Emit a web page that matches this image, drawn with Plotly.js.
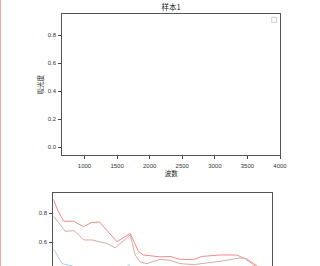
<!DOCTYPE html>
<html>
<head>
<meta charset="utf-8">
<script src="https://cdn.plot.ly/plotly-3.0.1.min.js"></script>
<style>
html,body{margin:0;padding:0;background:#fff;overflow:hidden;width:320px;height:266px;}
#edge{position:absolute;left:0;top:0;width:1px;height:266px;background:#f4a2a2;z-index:5;}
#chart{position:absolute;left:0;top:0;width:320px;height:360px;}
</style>
</head>
<body>
<div id="edge"></div>
<div id="chart"></div>
<script>
// Top chart (empty)
const topTitle = "样本1";
const topXTitle = "波数";
const topYTitle = "吸光度";
const xTickVals = [1000, 1500, 2000, 2500, 3000, 3500, 4000];
const yTickVals = [0.0, 0.2, 0.4, 0.6, 0.8];
const yTickText = ["0.0", "0.2", "0.4", "0.6", "0.8"];
// Bottom chart visible y ticks
const y2TickVals = [0.6, 0.8];
const y2TickText = ["0.6", "0.8"];

// Bottom chart spectra
const redX = [665, 720, 817, 970, 1122, 1250, 1366, 1631, 1834, 1961, 2037, 2292, 2444, 2597, 2800, 2928, 3207, 3461, 3588, 3766, 3880, 4000];
const redY = [0.896, 0.83, 0.745, 0.745, 0.708, 0.737, 0.74, 0.603, 0.66, 0.535, 0.51, 0.497, 0.50, 0.48, 0.478, 0.50, 0.51, 0.51, 0.485, 0.43, 0.39, 0.36];
const brownX = [665, 843, 970, 1000, 1122, 1250, 1479, 1606, 1834, 1910, 1987, 2089, 2292, 2444, 2597, 2800, 3207, 3512, 3614, 3791, 3900, 4000];
const brownY = [0.78, 0.675, 0.68, 0.672, 0.615, 0.615, 0.59, 0.56, 0.65, 0.51, 0.462, 0.45, 0.48, 0.473, 0.45, 0.443, 0.466, 0.49, 0.485, 0.43, 0.39, 0.36];
const blueX = [665, 793, 945, 1100, 1300, 1500, 1700, 1814, 1900, 2100, 2500, 3000, 3500, 3700, 4000];
const blueY = [0.553, 0.45, 0.434, 0.40, 0.36, 0.34, 0.38, 0.443, 0.33, 0.30, 0.29, 0.28, 0.29, 0.28, 0.22];

const H = 360, W = 320;
const tickFont = {family: "Liberation Sans, Arial, sans-serif", size: 6, color: "#333"};
const cjkFont = {family: "Noto Sans CJK SC, sans-serif", size: 6.5, color: "#222"};

const axBase = {
  showline: true, mirror: true, linecolor: "#555", linewidth: 1,
  ticks: "outside", ticklen: 3, tickwidth: 1, tickcolor: "#444",
  showgrid: false, zeroline: false, tickfont: tickFont
};

const traces = [
  {x: redX, y: redY, xaxis: "x2", yaxis: "y2", mode: "lines", line: {color: "#f08a8a", width: 1}, showlegend: false},
  {x: brownX, y: brownY, xaxis: "x2", yaxis: "y2", mode: "lines", line: {color: "#d9aaa2", width: 1}, showlegend: false},
  {x: blueX, y: blueY, xaxis: "x2", yaxis: "y2", mode: "lines", line: {color: "#a8d0ee", width: 1}, showlegend: false},
  {x: [], y: [], xaxis: "x", yaxis: "y", mode: "lines", showlegend: false}
];

const layout = {
  width: W, height: H,
  margin: {l: 0, r: 0, t: 0, b: 0},
  paper_bgcolor: "#fff", plot_bgcolor: "#fff",
  showlegend: false,
  title: {text: topTitle, font: {family: cjkFont.family, size: 7.5, color: "#222"}, x: 171/W, xanchor: "center", xref: "paper", y: 1 - 7/H, yanchor: "middle", yref: "paper"},
  xaxis: Object.assign({}, axBase, {
    domain: [62.3/W, 280/W], range: [660, 4000], anchor: "y",
    tickvals: xTickVals, ticklabelstandoff: 1, title: {text: topXTitle, font: cjkFont, standoff: 3}
  }),
  yaxis: Object.assign({}, axBase, {
    domain: [1 - 155.3/H, 1 - 14/H], range: [-0.059, 0.95], anchor: "x",
    tickvals: yTickVals, ticktext: yTickText, ticklabelstandoff: 1, title: {text: topYTitle, font: cjkFont, standoff: 3}
  }),
  xaxis2: Object.assign({}, axBase, {
    domain: [53.3/W, 272/W], range: [660, 4000], anchor: "y2",
    tickvals: xTickVals, showticklabels: false
  }),
  yaxis2: Object.assign({}, axBase, {
    domain: [1 - 334/H, 1 - 192.7/H], range: [-0.04, 0.944], anchor: "x2",
    tickvals: y2TickVals, ticktext: y2TickText, ticklabelstandoff: 1
  }),
  shapes: [
    {type: "rect", xref: "paper", yref: "paper", x0: 271.7/W, x1: 276.7/W, y0: 1 - 22.3/H, y1: 1 - 17.3/H,
     line: {color: "#cfcfcf", width: 1}, fillcolor: "rgba(255,255,255,0.8)"}
  ]
};

Plotly.newPlot("chart", traces, layout, {staticPlot: true, displayModeBar: false});
</script>
</body>
</html>
